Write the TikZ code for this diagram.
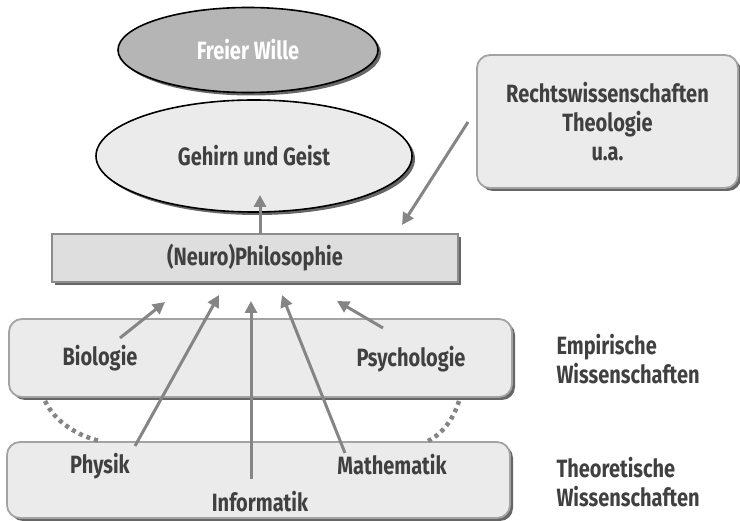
\documentclass[tikz,border=0pt]{standalone}
\usepackage{fontspec}
\setmainfont{Fira Sans}[FakeStretch=0.8]
\usetikzlibrary{shapes.geometric,shadows,arrows.meta}
\definecolor{txt}{HTML}{404040}
\definecolor{arr}{HTML}{858585}
\definecolor{lightf}{HTML}{EBEBEB}
\definecolor{midf}{HTML}{DEDEDE}
\definecolor{darkf}{HTML}{B5B5B5}
\definecolor{bord}{HTML}{8C8C8C}
\tikzset{
  lab/.style={font=\bfseries\fontsize{25}{29}\selectfont, text=txt},
  shad/.style={drop shadow={shadow xshift=3pt, shadow yshift=-3pt, fill=black!60, opacity=1}},
  ell/.style={ellipse, draw=black, line width=1.6pt, shad, inner sep=0pt},
  rbox/.style={rounded corners=13pt, draw=bord!80, line width=1.8pt, fill=lightf, shad, inner sep=0pt},
  pbox/.style={rectangle, draw=bord, line width=1.8pt, fill=midf, shad, inner sep=0pt},
  conn/.style={draw=arr, line width=3pt, -{Triangle[length=12pt,width=12pt]}},
  dots/.style={draw=arr, line width=4.5pt, dash pattern=on 4pt off 4pt},
}
\begin{document}
\begin{tikzpicture}[x=1pt,y=-1pt]
\useasboundingbox (0,0) rectangle (740,521);
% boxes
\node[rbox, minimum width=503pt, minimum height=78pt] (emp) at (260.5,358) {};
\node[rbox, minimum width=503pt, minimum height=76pt] (theo) at (258.5,480) {};
\node[rbox, minimum width=261pt, minimum height=133pt, lab, align=center] (recht) at (607.5,121.5)
  {Rechtswissenschaften\\Theologie\\u.a.};
\node[pbox, minimum width=406pt, minimum height=48pt, lab] (phil) at (255,258) {(Neuro)Philosophie};
\node[ell, fill=lightf, minimum width=316pt, minimum height=112pt, lab] (geist) at (254,156) {Gehirn und Geist};
\node[ell, fill=darkf, minimum width=260pt, minimum height=85pt, lab, text=white] (wille) at (248,50) {Freier Wille};
% labels in boxes
\node[lab] (bio) at (100,358) {Biologie};
\node[lab] (psy) at (411,359) {Psychologie};
\node[lab] (phy) at (100,466) {Physik};
\node[lab] (mat) at (392,465) {Mathematik};
\node[lab] (inf) at (260,502) {Informatik};
\node[lab, align=left, anchor=west] (emplab) at (553,359) {Empirische\\Wissenschaften};
\node[lab, align=left, anchor=west] (theolab) at (553,482) {Theoretische\\Wissenschaften};
% connector endpoints
\coordinate (bioS) at (120,338); \coordinate (bioE) at (165,302);
\coordinate (phyS) at (135,446); \coordinate (phyE) at (219,295);
\coordinate (infS) at (251,479); \coordinate (infE) at (251,301);
\coordinate (matS) at (345,453); \coordinate (matE) at (282,295);
\coordinate (psyS) at (383,328); \coordinate (psyE) at (337,301);
\coordinate (rS) at (468,122); \coordinate (rE) at (402,225);
\coordinate (gS) at (260,234); \coordinate (gE) at (260,195);
\draw[conn] (bioS) -- (bioE);
\draw[conn] (phyS) -- (phyE);
\draw[conn] (infS) -- (infE);
\draw[conn] (matS) -- (matE);
\draw[conn] (psyS) -- (psyE);
\draw[conn] (rS) -- (rE);
\draw[conn] (gS) -- (gE);
% dotted arcs
\coordinate (dl1) at (45,401); \coordinate (dl2) at (100,441);
\coordinate (dr1) at (459,401); \coordinate (dr2) at (428,441);
\draw[dots] (dl1) .. controls (55,422) and (78,436) .. (dl2);
\draw[dots] (dr1) .. controls (453,420) and (442,434) .. (dr2);
\end{tikzpicture}
\end{document}
